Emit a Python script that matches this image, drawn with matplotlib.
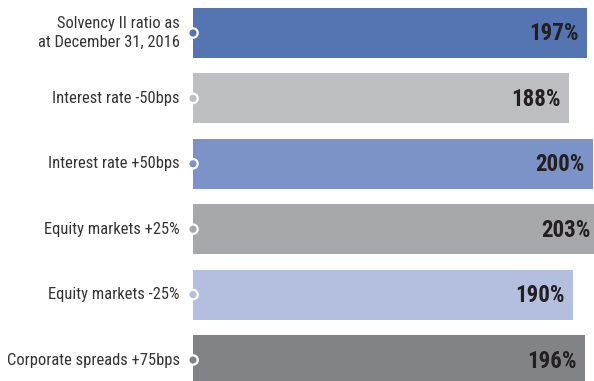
import matplotlib
matplotlib.use("Agg")
import matplotlib.pyplot as plt

categories = ["Solvency II ratio as\nat December 31, 2016", "Interest rate -50bps",
              "Interest rate +50bps", "Equity markets +25%", "Equity markets -25%",
              "Corporate spreads +75bps"]
values = [197, 188, 200, 203, 190, 196]
value_labels = ["197%", "188%", "200%", "203%", "190%", "196%"]
colors = ["#5474B2", "#BDBEC2", "#7B93C7", "#A7A8AC", "#B4BEDE", "#828387"]

plt.rcParams['font.family'] = ['Roboto Condensed', 'Archivo Narrow', 'DejaVu Sans']

W, H = 594, 381
fig = plt.figure(figsize=(W / 100, H / 100), dpi=100)
ax_left = 193 / W
ax = fig.add_axes([ax_left, 0, 1 - ax_left, 1])
pitch = 65.4
ax.set_xlim(0, (W - 193) / 2.0)
ax.set_ylim((H - 33) / pitch, -33 / pitch)
ax.axis('off')

pos = list(range(len(categories)))
ax.barh(pos, values, height=50 / pitch, color=colors, zorder=1)
ax.scatter([0] * len(pos), pos, s=46, c=colors, edgecolors='white', linewidths=1.6,
           zorder=3, clip_on=False)

for p, cat, v, lab in zip(pos, categories, values, value_labels):
    ax.annotate(cat, xy=(0, p), xytext=(-13, 0), textcoords='offset pixels',
                ha='right', va='center', fontsize=11.9, color='#333333',
                linespacing=1.35, annotation_clip=False)
    ax.annotate(lab, xy=(v, p), xytext=(-8, -1), textcoords='offset pixels',
                ha='right', va='center', fontsize=16.5, fontweight='bold',
                color='#231F20', annotation_clip=False)

fig.savefig("out.png", dpi=100)
